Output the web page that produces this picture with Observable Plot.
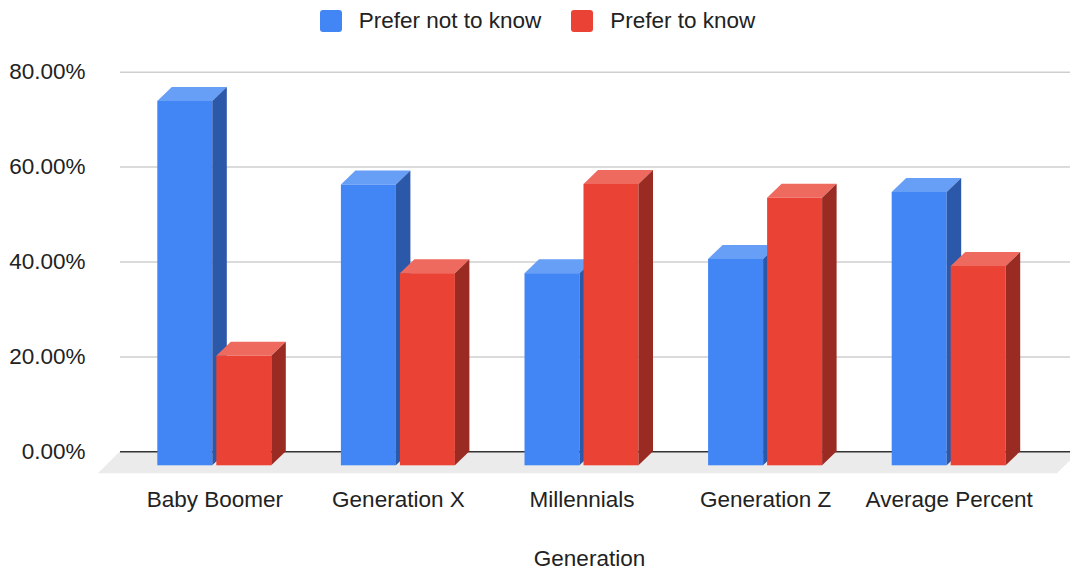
<!DOCTYPE html>
<html>
<head>
<meta charset="utf-8">
<script src="https://cdn.jsdelivr.net/npm/d3@7"></script>
<script src="https://cdn.jsdelivr.net/npm/@observablehq/plot@0.6"></script>
<style>
  body { margin: 0; background: #fff; font-family: "Liberation Sans", Arial, sans-serif; }
  #legend { height: 42px; display: flex; align-items: center; justify-content: center; padding-left: 5px; font-size: 22.5px; color: #222; }
  #legend .item { display: flex; align-items: center; margin: 0 15px; }
  #legend .sw { width: 22px; height: 22px; border-radius: 3px; margin-right: 17px; }
  #chart svg { display: block; }
</style>
</head>
<body>
<div id="legend"></div>
<div id="chart"></div>
<script>
// Survey results by generation (percent of respondents)
const generations = ["Baby Boomer", "Generation X", "Millennials", "Generation Z", "Average Percent"];
const seriesNames = ["Prefer not to know", "Prefer to know"];
const preferNotToKnow = [76.8, 59.2, 40.5, 43.5, 57.6];
const preferToKnow = [23.1, 40.5, 59.3, 56.4, 42.0];
const yTicks = [0, 20, 40, 60, 80];

// Face colours for each series: front, top, side
const palette = {
  "Prefer not to know": {front: "#4285f4", top: "#679ef6", side: "#2b58a8"},
  "Prefer to know": {front: "#ea4335", top: "#ee6a5f", side: "#9a2b23"}
};

const rows = generations.flatMap((g, i) => [
  {generation: g, series: seriesNames[0], value: preferNotToKnow[i]},
  {generation: g, series: seriesNames[1], value: preferToKnow[i]}
]);

// Legend
const legend = document.getElementById("legend");
for (const s of seriesNames) {
  const item = document.createElement("div");
  item.className = "item";
  const sw = document.createElement("div");
  sw.className = "sw";
  sw.style.background = palette[s].front;
  const label = document.createElement("span");
  label.textContent = s;
  item.append(sw, label);
  legend.append(item);
}

// Oblique 3D geometry (pixels)
const xRange = [122.5, 1040.5];
const step = (xRange[1] - xRange[0]) / generations.length;
const depthX = 14.5, depthY = 14;
const faceW = 55, faceGap = 4;
// horizontal extent of a front face relative to the band centre
const faceOffset = s => s === seriesNames[0] ? [-faceGap / 2 - faceW, -faceGap / 2] : [faceGap / 2, faceGap / 2 + faceW];

function frontFaces(s) {
  const [a, b] = faceOffset(s);
  return Plot.barY(rows.filter(d => d.series === s), {
    x: "generation", y: "value", fill: palette[s].front,
    insetLeft: step / 2 + a, insetRight: step / 2 - b, dy: depthY
  });
}

function topAndSide(s) {
  const data = rows.filter(d => d.series === s);
  const [a, b] = faceOffset(s);
  return (index, scales) => {
    const {x, y} = scales;
    const g = d3.create("svg:g");
    for (const d of data) {
      const c = x(d.generation) + step / 2;
      const l = c + a, r = c + b;
      const yt = y(d.value) + depthY, yb = y(0) + depthY;
      g.append("path")
        .attr("fill", palette[s].top)
        .attr("d", `M${l},${yt}L${l + depthX},${yt - depthY}L${r + depthX},${yt - depthY}L${r},${yt}Z`);
      g.append("path")
        .attr("fill", palette[s].side)
        .attr("d", `M${r},${yt}L${r + depthX},${yt - depthY}L${r + depthX},${yb - depthY}L${r},${yb}Z`);
    }
    return g.node();
  };
}

// Light grey floor in front of the zero line
const floor = (index, scales, values, dims) => {
  const y0 = scales.y(0);
  const left = dims.marginLeft, right = dims.width + 9, depth = 22;
  return d3.create("svg:path")
    .attr("fill", "#ebebeb")
    .attr("d", `M${left},${y0}L${right},${y0}L${right - depth},${y0 + depth}L${left - depth},${y0 + depth}Z`)
    .node();
};

const chart = Plot.plot({
  width: 1070,
  height: 527,
  marginTop: 29.7,
  marginBottom: 117.7,
  marginLeft: 120,
  marginRight: 0,
  style: {fontFamily: "'Liberation Sans', Arial, sans-serif", fontSize: "22.5px", color: "#222", background: "#fff", overflow: "visible"},
  x: {domain: generations, range: xRange, padding: 0, round: false, axis: null},
  y: {domain: [0, 80], axis: null},
  marks: [
    floor,
    Plot.gridY({ticks: yTicks.filter(t => t > 0), stroke: "#cfcfcf", strokeOpacity: 1, strokeWidth: 1.5}),
    Plot.ruleY([0], {stroke: "#333", strokeWidth: 1.6}),
    Plot.axisY({ticks: yTicks, tickSize: 0, tickPadding: 35, tickFormat: d => d.toFixed(2) + "%", label: null, fill: "#222"}),
    Plot.axisX({tickSize: 0, tickPadding: 39, label: null, fill: "#222"}),
    frontFaces(seriesNames[0]),
    topAndSide(seriesNames[0]),
    frontFaces(seriesNames[1]),
    topAndSide(seriesNames[1]),
    Plot.text(["Generation"], {text: d => d, frameAnchor: "bottom", dx: -6, dy: 113.7, fill: "#222"})
  ]
});
document.getElementById("chart").append(chart);
</script>
</body>
</html>
